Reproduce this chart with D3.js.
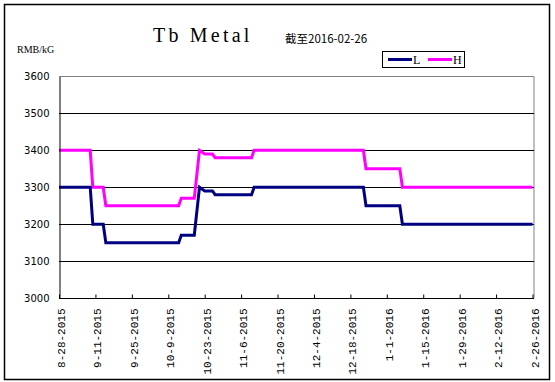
<!DOCTYPE html>
<html>
<head>
<meta charset="utf-8">
<script src="https://d3js.org/d3.v7.min.js"></script>
<style>
  body { margin: 0; background: #fff; }
  svg { display: block; }
</style>
</head>
<body>
<div id="chart"></div>
<script>
// breakpoints of the two price series (values hold between points)
var dates = ["8-28-2015", "9-9-2015", "9-10-2015", "9-14-2015", "9-15-2015", "10-13-2015",
  "10-14-2015", "10-19-2015", "10-21-2015", "10-23-2015", "10-26-2015", "10-27-2015",
  "11-10-2015", "11-11-2015", "12-23-2015", "12-24-2015", "1-6-2016", "1-7-2016", "2-26-2016"];
var lowValues = [3300, 3300, 3200, 3200, 3150, 3150, 3170, 3170, 3300, 3290, 3290, 3280,
  3280, 3300, 3300, 3250, 3250, 3200, 3200];
var highValues = [3400, 3400, 3300, 3300, 3250, 3250, 3270, 3270, 3400, 3390, 3390, 3380,
  3380, 3400, 3400, 3350, 3350, 3300, 3300];

var xTickLabels = ["8-28-2015", "9-11-2015", "9-25-2015", "10-9-2015", "10-23-2015",
  "11-6-2015", "11-20-2015", "12-4-2015", "12-18-2015", "1-1-2016", "1-15-2016",
  "1-29-2016", "2-12-2016", "2-26-2016"];
var yTicks = [3000, 3100, 3200, 3300, 3400, 3500, 3600];

var svgWidth = 555;
var svgHeight = 382;
var plot = { left: 59, right: 534, top: 76.5, bottom: 298 };

var parseDate = d3.timeParse("%m-%d-%Y");

var svg = d3.select("#chart").append("svg")
  .attr("width", svgWidth)
  .attr("height", svgHeight);

// outer frame
svg.append("rect")
  .attr("x", 4.5).attr("y", 4.5)
  .attr("width", 545).attr("height", 375)
  .attr("fill", "#fff")
  .attr("stroke", "#000")
  .attr("stroke-width", 1.5);

var x = d3.scaleTime()
  .domain([parseDate(xTickLabels[0]), parseDate(xTickLabels[xTickLabels.length - 1])])
  .range([plot.left, 532.5]);

var y = d3.scaleLinear()
  .domain([3000, 3600])
  .range([plot.bottom, plot.top]);

// plot border (gray top / right)
svg.append("path")
  .attr("d", `M${plot.left},${plot.top}H${plot.right}V${plot.bottom}`)
  .attr("fill", "none")
  .attr("stroke", "#808080")
  .attr("stroke-width", 1);

// gridlines
svg.append("g")
  .selectAll("line")
  .data(yTicks.filter(d => d > 3000 && d < 3600))
  .enter()
  .append("line")
  .attr("x1", plot.left)
  .attr("x2", plot.right)
  .attr("y1", d => Math.round(y(d)) + 0.5)
  .attr("y2", d => Math.round(y(d)) + 0.5)
  .attr("stroke", "#000")
  .attr("stroke-width", 1);

// series lines
var rows = dates.map(function(d, i) {
  return { date: parseDate(d), low: lowValues[i], high: highValues[i] };
});

var lowLine = d3.line().x(d => x(d.date)).y(d => y(d.low));
var highLine = d3.line().x(d => x(d.date)).y(d => y(d.high));

svg.append("path")
  .datum(rows)
  .attr("d", highLine)
  .attr("fill", "none")
  .attr("stroke", "#ff00ff")
  .attr("stroke-width", 3);

svg.append("path")
  .datum(rows)
  .attr("d", lowLine)
  .attr("fill", "none")
  .attr("stroke", "#000080")
  .attr("stroke-width", 3);

// y axis
var leftAxis = d3.axisLeft(y)
  .tickValues(yTicks)
  .tickSize(0)
  .tickPadding(10)
  .tickFormat(d3.format("d"));

var yAxis = svg.append("g")
  .attr("transform", `translate(${plot.left + 0.5}, 0)`)
  .call(leftAxis);
yAxis.select(".domain").attr("stroke", "#000");
yAxis.selectAll("text")
  .attr("font-family", "DejaVu Sans")
  .attr("font-size", "10px")
  .attr("fill", "#000");

// x axis
var bottomAxis = d3.axisBottom(x)
  .tickValues(xTickLabels.map(parseDate))
  .tickSizeInner(-4)
  .tickSizeOuter(0)
  .tickFormat((d, i) => xTickLabels[i]);

var xAxis = svg.append("g")
  .attr("transform", `translate(0, ${plot.bottom + 0.5})`)
  .call(bottomAxis);
xAxis.select(".domain")
  .attr("d", `M${plot.left},0H${plot.right}`)
  .attr("stroke", "#000");
xAxis.selectAll(".tick line").attr("stroke", "#000");
xAxis.selectAll("text")
  .attr("font-family", "Liberation Mono")
  .attr("font-size", "11px")
  .attr("fill", "#000")
  .attr("text-anchor", "end")
  .attr("transform", "translate(5.5, 10) rotate(-90)")
  .attr("x", 0)
  .attr("y", 0)
  .attr("dy", 0);

// titles
svg.append("text")
  .attr("x", 153)
  .attr("y", 41.5)
  .attr("font-family", "Liberation Serif")
  .attr("font-size", "20px")
  .attr("letter-spacing", "3.2px")
  .text("Tb Metal");

svg.append("text")
  .attr("x", 285)
  .attr("y", 43)
  .attr("font-family", "Noto Sans CJK SC")
  .attr("font-size", "11.5px")
  .text("截至2016-02-26");

svg.append("text")
  .attr("x", 17)
  .attr("y", 53)
  .attr("font-family", "Liberation Serif")
  .attr("font-size", "10px")
  .text("RMB/kG");

// legend
var legend = svg.append("g");
legend.append("rect")
  .attr("x", 382.5).attr("y", 51.5)
  .attr("width", 82).attr("height", 16)
  .attr("fill", "#fff")
  .attr("stroke", "#000");

var legendItems = [
  { name: "L", color: "#000080", x: 388 },
  { name: "H", color: "#ff00ff", x: 428 }
];
legendItems.forEach(function(item) {
  legend.append("line")
    .attr("x1", item.x).attr("x2", item.x + 24)
    .attr("y1", 59.5).attr("y2", 59.5)
    .attr("stroke", item.color)
    .attr("stroke-width", 3);
  legend.append("text")
    .attr("x", item.x + 25)
    .attr("y", 64)
    .attr("font-family", "Liberation Serif")
    .attr("font-size", "12px")
    .text(item.name);
});
</script>
</body>
</html>
